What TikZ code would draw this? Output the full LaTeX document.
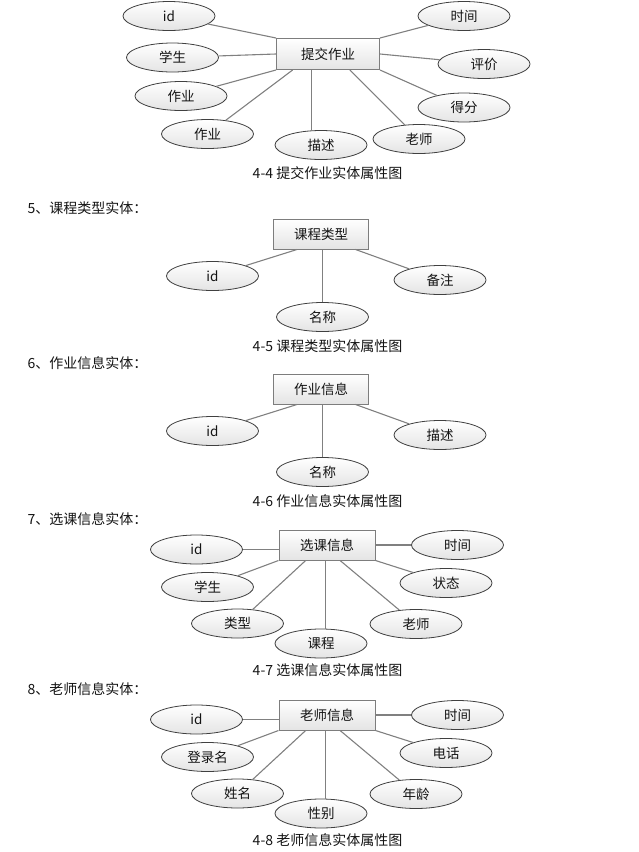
\documentclass[tikz,border=0pt]{standalone}
\usepackage{fontspec}
\usepackage{tikz}
\usetikzlibrary{positioning,shapes.geometric,calc}
\newfontfamily\cjk{Noto Sans CJK SC}
\definecolor{ink}{RGB}{20,20,20}
\definecolor{edge}{RGB}{64,64,64}
\definecolor{boxline}{RGB}{125,125,125}
\definecolor{wire}{RGB}{128,128,128}
\definecolor{soft}{RGB}{228,228,228}

\begin{document}
\begin{tikzpicture}[x=1pt,y=-1pt,
      every node/.style={font=\cjk\fontsize{13.5}{15}\selectfont,text=ink},
      ent/.style={draw=boxline,line width=1pt,top color=white,bottom color=soft,
        minimum height=30pt,inner sep=0pt},
      attr/.style={draw=edge,ellipse,line width=0.8pt,top color=white,
        bottom color=soft,minimum width=92pt,minimum height=29pt,inner sep=0pt},
      link/.style={draw=wire,line width=1.1pt},
      figcap/.style={font=\cjk\fontsize{14}{16}\selectfont},
      head/.style={font=\cjk\fontsize{14}{16}\selectfont,anchor=west}
    ]
      \useasboundingbox (0,0) rectangle (638,852);

      % 4-4
      \node[ent,minimum width=103pt,minimum height=31pt] (B4) at (328,54) {提交作业};
      \node[attr] (B4id) at ($(B4)+(-159,-38)$) {id};
      \node[attr] (B4xs) at ($(B4)+(-155.5,3.5)$) {学生};
      \node[attr] (B4za) at ($(B4)+(-147,42)$) {作业};
      \node[attr] (B4zb) at ($(B4)+(-120.5,80)$) {作业};
      \node[attr] (B4ms) at ($(B4)+(-7,91)$) {描述};
      \node[attr] (B4ls) at ($(B4)+(91,85)$) {老师};
      \node[attr] (B4df) at ($(B4)+(136,53.5)$) {得分};
      \node[attr] (B4pj) at ($(B4)+(156,10)$) {评价};
      \node[attr] (B4sj) at ($(B4)+(136,-38)$) {时间};
      \coordinate (B4m) at ($(B4.south west)!0.34!(B4.south east)$);
      \draw[link] (B4id) -- (B4.north west);
      \draw[link] (B4xs) -- (B4.west);
      \draw[link] (B4za) -- (B4.south west);
      \draw[link] (B4zb) -- ($(B4.south west)!0.16!(B4.south east)$);
      \draw[link] (B4m) -- (B4m |- B4ms.north);
      \draw[link] (B4ls) -- ($(B4.south west)!0.71!(B4.south east)$);
      \draw[link] (B4df) -- (B4.south east);
      \draw[link] (B4pj) -- (B4.east);
      \draw[link] (B4sj) -- (B4.north east);
      \node[figcap] (C4) at (327.5,173) {4-4 提交作业实体属性图};

      % 4-5
      \node[head] (H5) at (24,208) {5、课程类型实体：};
      \node[ent,minimum width=95pt] (B5) at (321,234) {课程类型};
      \node[attr] (B5id) at ($(B5)+(-108.5,42)$) {id};
      \node[attr] (B5mc) at ($(B5)+(1.5,83)$) {名称};
      \node[attr] (B5bz) at ($(B5)+(119,46)$) {备注};
      \draw[link] (B5id) -- ($(B5.south west)!0.25!(B5.south east)$);
      \draw[link] (B5mc.north) -- (B5mc.north |- B5.south);
      \draw[link] (B5bz) -- ($(B5.south west)!0.86!(B5.south east)$);
      \node[figcap] (C5) at (327.5,346.5) {4-5 课程类型实体属性图};

      % 4-6
      \node[head] (H6) at (24,363) {6、作业信息实体：};
      \node[ent,minimum width=95pt] (B6) at (321,389) {作业信息};
      \node[attr] (B6id) at ($(B6)+(-108.5,42)$) {id};
      \node[attr] (B6mc) at ($(B6)+(1.5,83)$) {名称};
      \node[attr] (B6ms) at ($(B6)+(119,46)$) {描述};
      \draw[link] (B6id) -- ($(B6.south west)!0.25!(B6.south east)$);
      \draw[link] (B6mc.north) -- (B6mc.north |- B6.south);
      \draw[link] (B6ms) -- ($(B6.south west)!0.86!(B6.south east)$);
      \node[figcap] (C6) at (327.5,501.5) {4-6 作业信息实体属性图};

      % 4-7
      \node[head] (H7) at (24,519) {7、选课信息实体：};
      \node[ent,minimum width=96pt] (B7) at (327,545) {选课信息};
      \node[attr] (B7id) at ($(B7)+(-130.5,4.5)$) {id};
      \node[attr] (B7xs) at ($(B7)+(-119.5,42)$) {学生};
      \node[attr] (B7lx) at ($(B7)+(-89.5,78.5)$) {类型};
      \node[attr] (B7kc) at ($(B7)+(-6,98.5)$) {课程};
      \node[attr] (B7ls) at ($(B7)+(89,79)$) {老师};
      \node[attr] (B7zt) at ($(B7)+(119,38)$) {状态};
      \node[attr] (B7sj) at ($(B7)+(130.5,0)$) {时间};
      \coordinate (B7m) at ($(B7.south west)!0.48!(B7.south east)$);
      \draw[link] (B7id.east) -- (B7id.east -| B7.west);
      \draw[link] (B7sj.west) -- (B7sj.west -| B7.east);
      \draw[link] (B7xs) -- (B7.south west);
      \draw[link] (B7lx) -- ($(B7.south west)!0.28!(B7.south east)$);
      \draw[link] (B7m) -- (B7m |- B7kc.north);
      \draw[link] (B7ls) -- ($(B7.south west)!0.635!(B7.south east)$);
      \draw[link] (B7zt) -- (B7.south east);
      \node[figcap] (C7) at (327.5,670) {4-7 选课信息实体属性图};

      % 4-8
      \node[head] (H8) at (24,689) {8、老师信息实体：};
      \node[ent,minimum width=96pt] (B8) at (327,715) {老师信息};
      \node[attr] (B8id) at ($(B8)+(-130.5,4.5)$) {id};
      \node[attr] (B8dl) at ($(B8)+(-119.5,42)$) {登录名};
      \node[attr] (B8xm) at ($(B8)+(-89.5,78.5)$) {姓名};
      \node[attr] (B8xb) at ($(B8)+(-6,98.5)$) {性别};
      \node[attr] (B8nl) at ($(B8)+(89,79)$) {年龄};
      \node[attr] (B8dh) at ($(B8)+(119,38)$) {电话};
      \node[attr] (B8sj) at ($(B8)+(130.5,0)$) {时间};
      \coordinate (B8m) at ($(B8.south west)!0.48!(B8.south east)$);
      \draw[link] (B8id.east) -- (B8id.east -| B8.west);
      \draw[link] (B8sj.west) -- (B8sj.west -| B8.east);
      \draw[link] (B8dl) -- (B8.south west);
      \draw[link] (B8xm) -- ($(B8.south west)!0.28!(B8.south east)$);
      \draw[link] (B8m) -- (B8m |- B8xb.north);
      \draw[link] (B8nl) -- ($(B8.south west)!0.635!(B8.south east)$);
      \draw[link] (B8dh) -- (B8.south east);
      \node[figcap] (C8) at (327.5,840) {4-8 老师信息实体属性图};
    \end{tikzpicture}
\end{document}
